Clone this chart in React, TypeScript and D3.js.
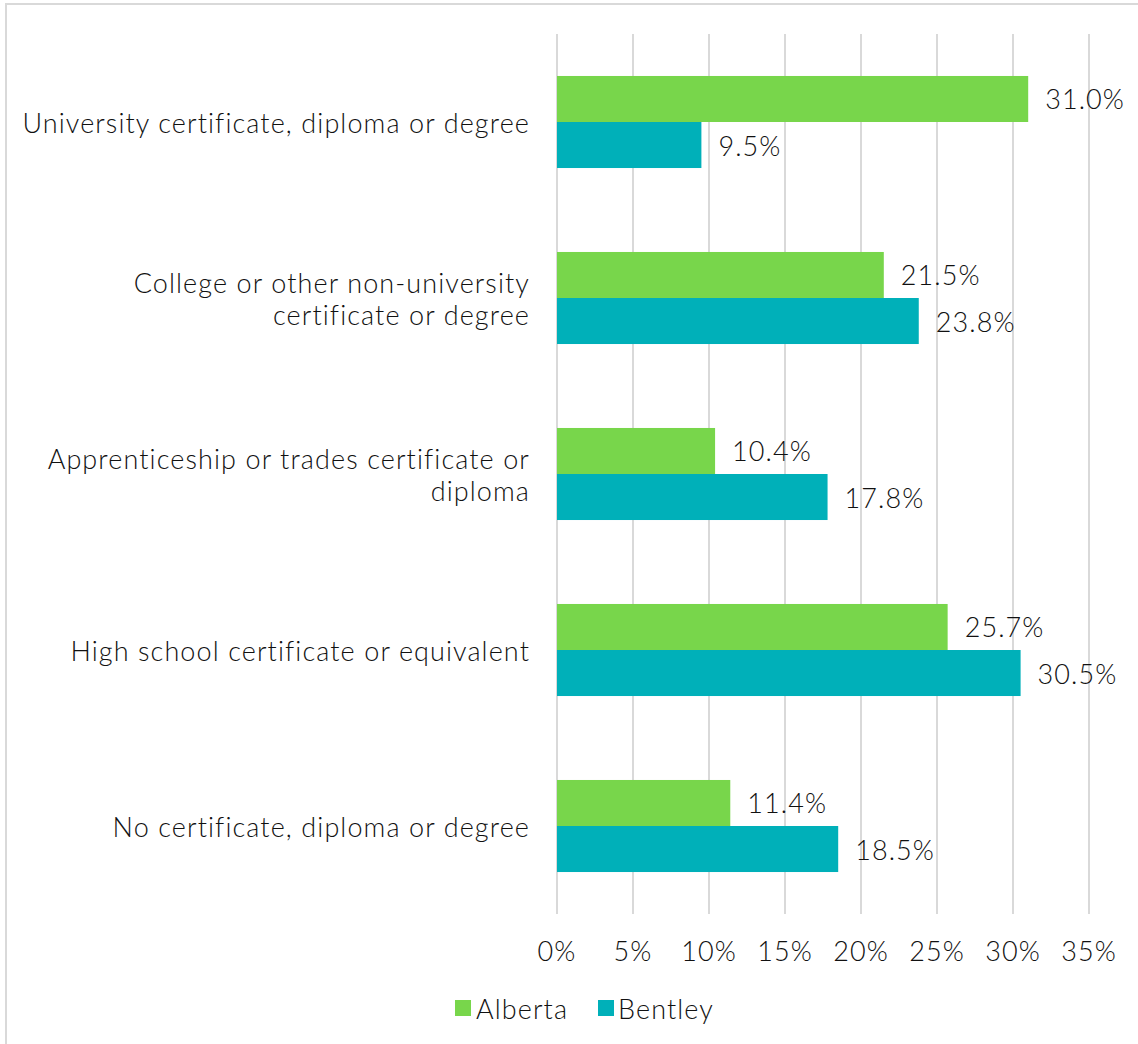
import * as d3 from 'd3'

const categories = [
  'University certificate, diploma or degree',
  'College or other non-university certificate or degree',
  'Apprenticeship or trades certificate or diploma',
  'High school certificate or equivalent',
  'No certificate, diploma or degree',
]
// how each category label is broken into lines
const labelLines = [
  ['University certificate, diploma or degree'],
  ['College or other non-university', 'certificate or degree'],
  ['Apprenticeship or trades certificate or', 'diploma'],
  ['High school certificate or equivalent'],
  ['No certificate, diploma or degree'],
]
const alberta = [31.0, 21.5, 10.4, 25.7, 11.4]
const bentley = [9.5, 23.8, 17.8, 30.5, 18.5]
const ticks = [0, 5, 10, 15, 20, 25, 30, 35]
const seriesNames = ['Alberta', 'Bentley']
const seriesColors = ['#78d64b', '#00b0b9']

const W = 1138
const H = 1044
const font = 'Lato, "Open Sans", sans-serif'
const textColor = '#111'
const fs = 27
const ls = 1.1

export default function App() {
  const x = d3.scaleLinear().domain([0, 35]).range([557, 1089])
  const y = d3
    .scaleBand<string>()
    .domain(categories)
    .range([34, 914])
    .paddingInner(0.477)
    .paddingOuter(0.2385)
  const sub = d3.scaleBand<string>().domain(seriesNames).range([0, y.bandwidth()])
  const series = [alberta, bentley]

  return (
    <svg
      width={W}
      height={H}
      style={{ position: 'absolute', left: 0, top: 0, background: '#fff' }}
      fontFamily={font}
      fontWeight={300}
      letterSpacing={ls}
    >
      <rect x={6} y={4} width={W + 20} height={H + 20} fill="#fff" stroke="#d9d9d9" strokeWidth={2} />

      {ticks.map(t => (
        <line key={t} x1={x(t)} x2={x(t)} y1={34} y2={914} stroke="#d9d9d9" strokeWidth={2} />
      ))}

      {categories.map((c, i) => (
        <g key={c}>
          {series.map((vals, s) => {
            const top = (y(c) ?? 0) + (sub(seriesNames[s]) ?? 0)
            const v = vals[i]
            return (
              <g key={s}>
                <rect x={x(0)} y={top} width={x(v) - x(0)} height={sub.bandwidth()} fill={seriesColors[s]} />
                <text
                  x={x(v) + 17}
                  y={top + sub.bandwidth() / 2}
                  dominantBaseline="central"
                  fontSize={fs}
                  fill={textColor}
                >
                  {v.toFixed(1) + '%'}
                </text>
              </g>
            )
          })}
          {labelLines[i].map((line, j) => {
            const n = labelLines[i].length
            const cy = (y(c) ?? 0) + y.bandwidth() / 2 + (j - (n - 1) / 2) * 32
            return (
              <text
                key={j}
                x={530}
                y={cy}
                textAnchor="end"
                dominantBaseline="central"
                fontSize={fs}
                fill={textColor}
              >
                {line}
              </text>
            )
          })}
        </g>
      ))}

      {ticks.map(t => (
        <text
          key={t}
          x={x(t)}
          y={950}
          textAnchor="middle"
          dominantBaseline="central"
          fontSize={fs}
          fill={textColor}
        >
          {t + '%'}
        </text>
      ))}

      {/* legend */}
      <g>
        <rect x={455} y={1000} width={16} height={16} fill={seriesColors[0]} />
        <text x={476} y={1008} dominantBaseline="central" fontSize={fs} fill={textColor}>
          {seriesNames[0]}
        </text>
        <rect x={598} y={1000} width={16} height={16} fill={seriesColors[1]} />
        <text x={618} y={1008} dominantBaseline="central" fontSize={fs} fill={textColor}>
          {seriesNames[1]}
        </text>
      </g>
    </svg>
  )
}
